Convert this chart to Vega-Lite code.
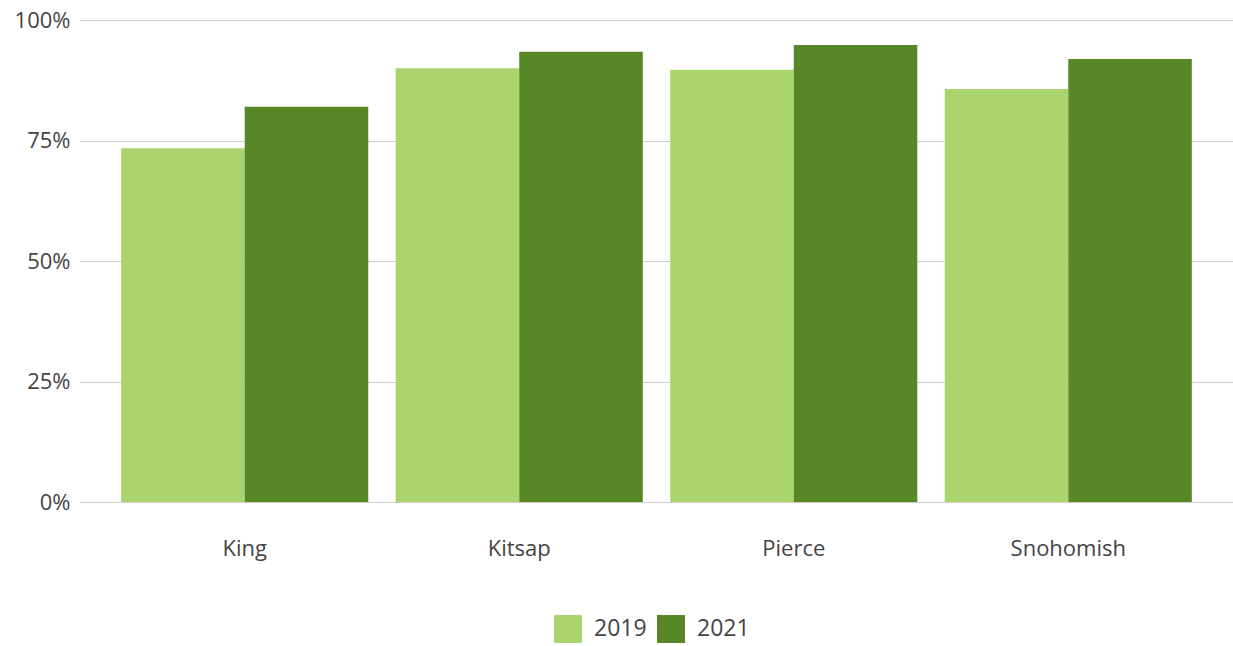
{
  "$schema": "https://vega.github.io/schema/vega-lite/v6.json",
  "autosize": {"type": "none"},
  "padding": {"left": 80, "top": 20, "right": 0, "bottom": 144},
  "width": 1153,
  "height": 482,
  "background": "white",
  "config": {
    "view": {"stroke": null},
    "font": "Open Sans"
  },
  "data": {
    "values": [
      {"county": "King", "year": "2019", "value": 0.734},
      {"county": "King", "year": "2021", "value": 0.82},
      {"county": "Kitsap", "year": "2019", "value": 0.90},
      {"county": "Kitsap", "year": "2021", "value": 0.934},
      {"county": "Pierce", "year": "2019", "value": 0.897},
      {"county": "Pierce", "year": "2021", "value": 0.948},
      {"county": "Snohomish", "year": "2019", "value": 0.857},
      {"county": "Snohomish", "year": "2021", "value": 0.919}
    ]
  },
  "mark": {"type": "bar"},
  "encoding": {
    "x": {
      "field": "county",
      "type": "nominal",
      "scale": {"paddingInner": 0.1, "paddingOuter": 0.15},
      "axis": {
        "title": null,
        "labelAngle": 0,
        "labelFontSize": 22,
        "labelColor": "#444444",
        "labelPadding": 36,
        "ticks": false,
        "domainColor": "#cccccc",
        "domainWidth": 1
      }
    },
    "xOffset": {"field": "year", "type": "nominal", "scale": {"paddingInner": 0, "paddingOuter": 0}},
    "y": {
      "field": "value",
      "type": "quantitative",
      "scale": {"domain": [0, 1]},
      "axis": {
        "title": null,
        "format": ".0%",
        "values": [0, 0.25, 0.5, 0.75, 1],
        "labelFontSize": 22,
        "labelColor": "#444444",
        "labelPadding": 10,
        "ticks": false,
        "domain": false,
        "gridColor": "#cccccc",
        "gridWidth": 1
      }
    },
    "color": {
      "field": "year",
      "type": "nominal",
      "scale": {"domain": ["2019", "2021"], "range": ["#a9d46e", "#588728"]},
      "legend": {
        "title": null,
        "orient": "none",
        "direction": "horizontal",
        "legendX": 474,
        "legendY": 595,
        "symbolType": "square",
        "symbolSize": 784,
        "symbolStrokeWidth": 0,
        "labelFontSize": 23,
        "labelColor": "#444444",
        "labelOffset": 12,
        "columnPadding": 10
      }
    }
  }
}
